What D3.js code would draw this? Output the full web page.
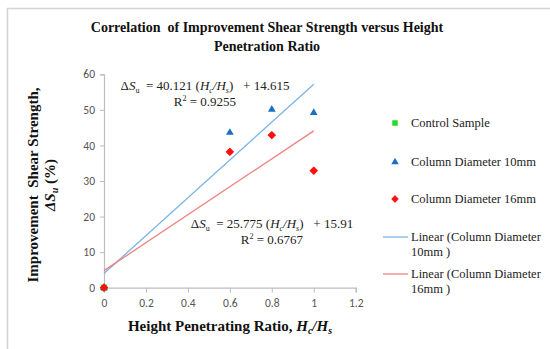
<!DOCTYPE html>
<html><head><meta charset="utf-8">
<script src="https://cdn.jsdelivr.net/npm/d3@7"></script>
<style>body{margin:0;background:#fff}svg{display:block}text{white-space:pre}</style>
</head><body>
<svg id="c" width="550" height="349"></svg>
<script>
const xTicks = [0, 0.2, 0.4, 0.6, 0.8, 1, 1.2];
const yTicks = [0, 10, 20, 30, 40, 50, 60];
const controlX = [0];
const controlY = [0];
const d10X = [0, 0.6, 0.8, 1];
const d10Y = [0, 43.6, 50.1, 49.2];
const d16X = [0, 0.6, 0.8, 1];
const d16Y = [0, 38.2, 42.9, 32.9];
// trendline endpoints as drawn in the picture (x, y)
const trend10 = [[0, 4.0], [1, 57.2]];
const trend16 = [[0, 4.8], [1, 44.1]];
const legendLabels = ["Control Sample", "Column Diameter 10mm", "Column Diameter 16mm",
  ["Linear (Column Diameter", "10mm )"], ["Linear (Column Diameter", "16mm )"]];

const svg = d3.select("#c");
const x = d3.scaleLinear().domain([0, 1.2]).range([104, 355.7]);
const y = d3.scaleLinear().domain([0, 60]).range([287.7, 74.3]);
const serif = "'Liberation Serif','Times New Roman',serif";
const sans = "Carlito,'Liberation Sans',Arial,sans-serif";

// frame
svg.append("path").attr("d", "M7.5,349 V8.5 H550").attr("fill", "none")
  .attr("stroke", "#d4d4d4").attr("stroke-width", 1.5);

// title
const title = svg.append("text").attr("text-anchor", "middle").attr("font-family", serif)
  .attr("font-weight", "bold").attr("font-size", 14).attr("fill", "#111");
title.append("tspan").attr("x", 267).attr("y", 32).text("Correlation  of Improvement Shear Strength versus Height");
title.append("tspan").attr("x", 267).attr("y", 51).text("Penetration Ratio");

// axes
const gx = svg.append("g").attr("transform", `translate(0,${y(0)})`)
  .call(d3.axisBottom(x).tickValues(xTicks).tickSize(5).tickPadding(6)
    .tickFormat(d => d3.format("")(+d.toFixed(1))));
const gy = svg.append("g").attr("transform", `translate(${x(0)},0)`)
  .call(d3.axisLeft(y).tickValues(yTicks).tickSize(4).tickPadding(5));
[gx, gy].forEach(g => {
  g.select(".domain").attr("stroke", "#bdbdbd").attr("stroke-width", 1.2);
  g.selectAll(".tick line").attr("stroke", "#bdbdbd");
  g.selectAll(".tick text").attr("font-family", sans).attr("font-size", 11.5).attr("fill", "#555");
});

// trendlines
const line = d3.line().x(d => x(d[0])).y(d => y(d[1]));
svg.append("path").datum(trend10).attr("d", line).attr("stroke", "#7ab4e6").attr("stroke-width", 1.3).attr("fill", "none");
svg.append("path").datum(trend16).attr("d", line).attr("stroke", "#f08080").attr("stroke-width", 1.3).attr("fill", "none");

// markers
const sq = d3.symbol().type(d3.symbolSquare).size(40);
const tri = d3.symbol().type(d3.symbolTriangle).size(26);
const dia = d3.symbol().type(d3.symbolSquare).size(26);
svg.append("g").selectAll("path").data(controlX.map((v, i) => [v, controlY[i]])).join("path")
  .attr("d", sq).attr("transform", d => `translate(${x(d[0])},${y(d[1])})`).attr("fill", "#22dd22");
svg.append("g").selectAll("path").data(d10X.map((v, i) => [v, d10Y[i]])).join("path")
  .attr("d", tri).attr("transform", d => `translate(${x(d[0])},${y(d[1])})`).attr("fill", "#1a6fc4");
svg.append("g").selectAll("path").data(d16X.map((v, i) => [v, d16Y[i]])).join("path")
  .attr("d", dia).attr("transform", d => `translate(${x(d[0])},${y(d[1])}) rotate(45)`).attr("fill", "#ff1010")
  .attr("stroke", "#ff1010").attr("stroke-width", 1).attr("stroke-linejoin", "round");

// equations
function eq(cx, ys, a, b, r2) {
  const t = svg.append("text").attr("font-family", serif).attr("font-size", 13).attr("fill", "#222")
    .attr("x", cx).attr("y", ys).attr("text-anchor", "middle");
  t.append("tspan").text("Δ");
  t.append("tspan").attr("font-style", "italic").text("S");
  t.append("tspan").attr("font-size", 8).attr("dy", 3).text("u");
  t.append("tspan").attr("dy", -3).text(`  = ${a} (`);
  t.append("tspan").attr("font-style", "italic").text("H");
  t.append("tspan").attr("font-size", 8).attr("font-style", "italic").attr("dy", 3).text("c");
  t.append("tspan").attr("dy", -3).attr("font-style", "italic").text("/H");
  t.append("tspan").attr("font-size", 8).attr("font-style", "italic").attr("dy", 3).text("s");
  t.append("tspan").attr("dy", -3).text(`)   + ${b}`);
  const r = svg.append("text").attr("font-family", serif).attr("font-size", 13).attr("fill", "#222")
    .attr("x", cx).attr("y", ys + 16).attr("text-anchor", "middle");
  r.append("tspan").text("R");
  r.append("tspan").attr("font-size", 8).attr("dy", -5).text("2");
  r.append("tspan").attr("dy", 5).text(` = ${r2}`);
}
eq(205, 90, "40.121", "14.615", "0.9255");
eq(272, 228, "25.775", "15.91", "0.6767");

// axis titles
const xt = svg.append("text").attr("font-family", serif).attr("font-weight", "bold").attr("font-size", 15)
  .attr("fill", "#111").attr("text-anchor", "middle").attr("x", 230).attr("y", 331);
xt.append("tspan").text("Height Penetrating Ratio, ");
xt.append("tspan").attr("font-style", "italic").text("H");
xt.append("tspan").attr("font-style", "italic").attr("font-size", 10).attr("dy", 3).text("c");
xt.append("tspan").attr("font-style", "italic").attr("dy", -3).text("/H");
xt.append("tspan").attr("font-style", "italic").attr("font-size", 10).attr("dy", 3).text("s");

const yt = svg.append("g").attr("transform", "translate(38,185) rotate(-90)");
yt.append("text").attr("font-family", serif).attr("font-weight", "bold").attr("font-size", 15)
  .attr("fill", "#111").attr("text-anchor", "middle").attr("y", 0).text("Improvement  Shear Strength,");
const yt2 = yt.append("text").attr("font-family", serif).attr("font-weight", "bold").attr("font-size", 15)
  .attr("fill", "#111").attr("text-anchor", "middle").attr("y", 17);
yt2.append("tspan").attr("font-style", "italic").text("ΔS");
yt2.append("tspan").attr("font-style", "italic").attr("font-size", 10).attr("dy", 3).text("u");
yt2.append("tspan").attr("dy", -3).text(" (%)");

// legend
const lg = svg.append("g").attr("font-family", serif).attr("font-size", 12.5).attr("fill", "#222");
const ly = [123, 162, 199, 237, 274];
lg.append("path").attr("d", d3.symbol().type(d3.symbolSquare).size(30)).attr("transform", `translate(395,${ly[0]})`).attr("fill", "#22dd22");
lg.append("path").attr("d", d3.symbol().type(d3.symbolTriangle).size(24)).attr("transform", `translate(395,${ly[1]})`).attr("fill", "#1a6fc4");
lg.append("path").attr("d", d3.symbol().type(d3.symbolSquare).size(20)).attr("transform", `translate(395,${ly[2]}) rotate(45)`).attr("fill", "#ff1010")
  .attr("stroke", "#ff1010").attr("stroke-width", 1).attr("stroke-linejoin", "round");
lg.append("line").attr("x1", 383).attr("x2", 408).attr("y1", ly[3]).attr("y2", ly[3]).attr("stroke", "#7ab4e6").attr("stroke-width", 1.3);
lg.append("line").attr("x1", 383).attr("x2", 408).attr("y1", ly[4]).attr("y2", ly[4]).attr("stroke", "#f08080").attr("stroke-width", 1.3);
legendLabels.forEach((l, i) => {
  const t = lg.append("text").attr("x", 411).attr("y", ly[i] + 4);
  if (Array.isArray(l)) {
    t.append("tspan").attr("x", 411).text(l[0]);
    t.append("tspan").attr("x", 411).attr("dy", 15).text(l[1]);
  } else t.text(l);
});
</script>
</body></html>
